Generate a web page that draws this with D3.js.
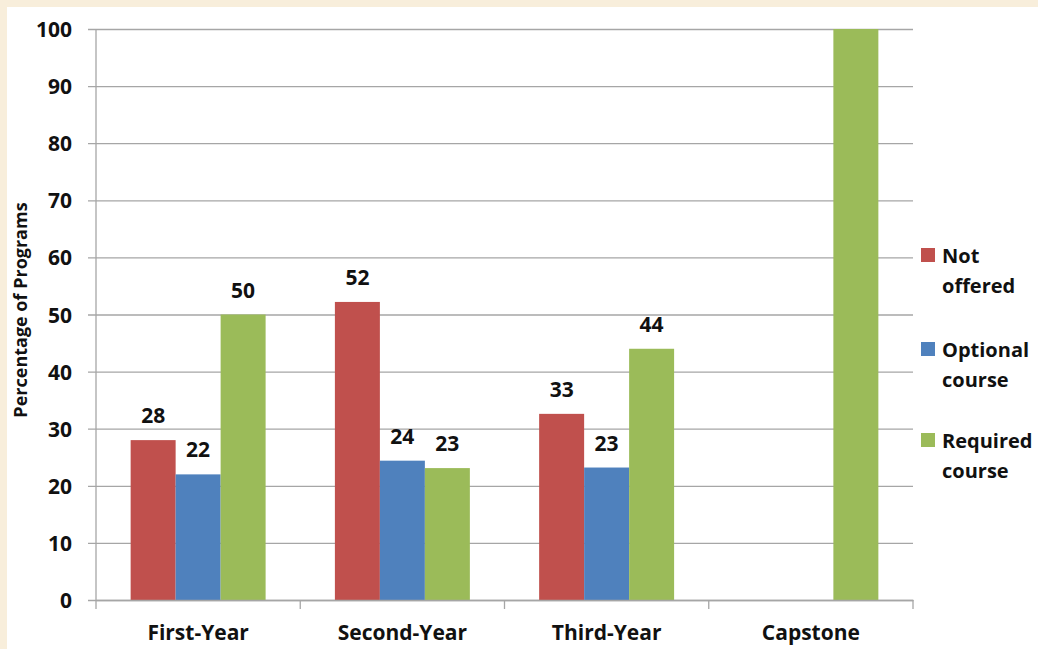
<!DOCTYPE html>
<html>
<head>
<meta charset="utf-8">
<script src="https://cdn.jsdelivr.net/npm/d3@7"></script>
<style>
  html, body { margin: 0; padding: 0; background: #f8eedb; }
  svg text { font-family: "Open Sans", Lato, sans-serif; font-weight: 700; fill: #111; }
</style>
</head>
<body>
<div id="chart"></div>
<script>
// Data
const categories = ['First-Year', 'Second-Year', 'Third-Year', 'Capstone'];
const seriesNames = ['Not offered', 'Optional course', 'Required course'];
const notOffered = [28, 52.2, 32.6, 0];
const optionalCourse = [22, 24.4, 23.2, 0];
const requiredCourse = [50, 23.1, 44, 100];
const yTicks = [0, 10, 20, 30, 40, 50, 60, 70, 80, 90, 100];

const colors = ['#c0504d', '#4f81bd', '#9bbb59'];
const seriesValues = [notOffered, optionalCourse, requiredCourse];

const width = 1038;
const height = 649;
const margin = { left: 96, right: 125, top: 29, bottom: 49 };
const fontFamily = '"Open Sans", Lato, sans-serif';

var svg = d3.select('#chart')
  .append('svg')
  .attr('width', width)
  .attr('height', height);

// white panel
svg.append('rect')
  .attr('x', 7)
  .attr('y', 7)
  .attr('width', width - 7)
  .attr('height', height - 7)
  .attr('fill', '#ffffff');

// Scales
var x0 = d3.scaleBand()
  .domain(categories)
  .range([margin.left, width - margin.right]);

var x1 = d3.scaleBand()
  .domain(seriesNames)
  .range([0, x0.bandwidth()])
  .paddingOuter(0.77);

var y = d3.scaleLinear()
  .domain([0, 100])
  .range([height - margin.bottom, margin.top]);

// Gridlines + y axis
var axisY = d3.axisLeft(y)
  .tickValues(yTicks)
  .tickSizeOuter(0);

var gy = svg.append('g')
  .attr('transform', 'translate(' + margin.left + ',0)')
  .call(axisY);

gy.select('.domain').remove();
gy.selectAll('.tick line')
  .attr('x1', -8)
  .attr('x2', width - margin.right - margin.left)
  .attr('stroke', '#a6a6a6')
  .attr('stroke-width', 1.3);
gy.selectAll('.tick text')
  .attr('x', -24)
  .attr('dy', '0.36em')
  .attr('font-size', '21px')
  .style('font-family', fontFamily);

// vertical axis line
svg.append('line')
  .attr('x1', margin.left)
  .attr('x2', margin.left)
  .attr('y1', y(100))
  .attr('y2', y(0))
  .attr('stroke', '#a6a6a6')
  .attr('stroke-width', 1.3);

// Bars
var groups = svg.append('g')
  .selectAll('g')
  .data(categories)
  .enter()
  .append('g')
  .attr('transform', function (d) {
    return 'translate(' + x0(d) + ',0)';
  });

groups.selectAll('rect')
  .data(function (d, i) {
    return seriesNames.map(function (s, j) {
      return { series: s, value: seriesValues[j][i], color: colors[j] };
    });
  })
  .enter()
  .append('rect')
  .attr('x', function (d) { return x1(d.series); })
  .attr('y', function (d) { return y(d.value); })
  .attr('width', x1.bandwidth())
  .attr('height', function (d) { return y(0) - y(d.value); })
  .attr('fill', function (d) { return d.color; });

// Value labels (none for empty bars or the full capstone bar)
groups.selectAll('text')
  .data(function (d, i) {
    return seriesNames.map(function (s, j) {
      return { series: s, value: seriesValues[j][i] };
    }).filter(function (d) { return d.value > 0 && d.value < 100; });
  })
  .enter()
  .append('text')
  .text(function (d) { return Math.round(d.value); })
  .attr('x', function (d) { return x1(d.series) + x1.bandwidth() / 2; })
  .attr('y', function (d) { return y(d.value) - 17; })
  .attr('font-size', '21px')
  .attr('text-anchor', 'middle');

// Bottom axis
var axisX = d3.axisBottom(x0)
  .tickSize(0)
  .tickPadding(0);

var gx = svg.append('g')
  .attr('transform', 'translate(0,' + y(0) + ')')
  .call(axisX);

gx.select('.domain')
  .attr('stroke', '#a6a6a6')
  .attr('stroke-width', 1.3);
gx.selectAll('.tick text')
  .attr('y', 40)
  .attr('dy', 0)
  .attr('font-size', '21px')
  .style('font-family', fontFamily);

// category separators
var bounds = categories.map(function (c) { return x0(c); }).concat([x0.range()[1]]);
svg.append('g')
  .selectAll('line')
  .data(bounds)
  .enter()
  .append('line')
  .attr('x1', function (d) { return d; })
  .attr('x2', function (d) { return d; })
  .attr('y1', y(0))
  .attr('y2', y(0) + 9)
  .attr('stroke', '#a6a6a6')
  .attr('stroke-width', 1.3);

// Y title
svg.append('text')
  .attr('transform', 'translate(27,' + 310 + ') rotate(-90)')
  .attr('text-anchor', 'middle')
  .attr('font-size', '18px')
  .text('Percentage of Programs');

// Legend
var legendLines = [['Not', 'offered'], ['Optional', 'course'], ['Required', 'course']];
var legendY = [263, 357, 448];

var legend = svg.append('g')
  .selectAll('g')
  .data(seriesNames)
  .enter()
  .append('g')
  .attr('transform', function (d, i) {
    return 'translate(921,' + legendY[i] + ')';
  });

legend.append('rect')
  .attr('x', 0)
  .attr('y', -15)
  .attr('width', 14)
  .attr('height', 14)
  .attr('fill', function (d, i) { return colors[i]; });

legend.append('text')
  .attr('x', 21)
  .attr('font-size', '20px')
  .selectAll('tspan')
  .data(function (d, i) { return legendLines[i]; })
  .enter()
  .append('tspan')
  .attr('x', 21)
  .attr('dy', function (d, i) { return i === 0 ? 0 : 30; })
  .text(function (d) { return d; });
</script>
</body>
</html>
